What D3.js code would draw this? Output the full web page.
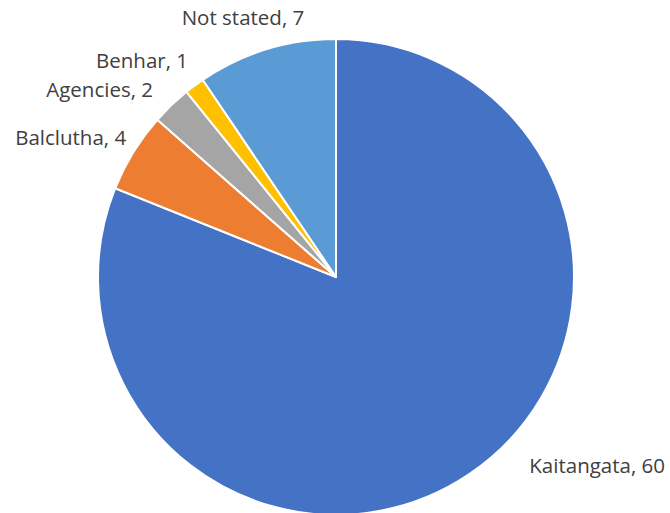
<!DOCTYPE html>
<html><head><meta charset="utf-8">
<script src="https://cdn.jsdelivr.net/npm/d3@7"></script>
<style>body{margin:0;background:#fff}svg{display:block}</style>
</head><body>
<script>
const categories = ["Kaitangata", "Balclutha", "Agencies", "Benhar", "Not stated"];
const values = [60, 4, 2, 1, 7];
const colors = ["#4472C4", "#ED7D31", "#A5A5A5", "#FFC000", "#5B9BD5"];
// label placement (angle in degrees clockwise from top, distance from centre)
const labelAngles = [125.8, 297.8, 308.5, 318.2, 340.3];
const labelDist = [322, 300, 302, 291, 276];

const W = 670, H = 513, cx = 336, cy = 277, R = 238;
const svg = d3.select("body").append("svg").attr("width", W).attr("height", H);
const data = categories.map((c, i) => ({c, v: values[i], i}));
const pie = d3.pie().value(d => d.v).sort(null);
const arc = d3.arc().innerRadius(0).outerRadius(R);
const g = svg.append("g").attr("transform", `translate(${cx},${cy})`);
g.selectAll("path").data(pie(data)).join("path")
  .attr("d", arc).attr("fill", d => colors[d.data.i])
  .attr("stroke", "#fff").attr("stroke-width", 2).attr("stroke-linejoin", "round");
g.selectAll("text").data(pie(data)).join("text")
  .attr("x", d => Math.sin(labelAngles[d.data.i] * Math.PI / 180) * labelDist[d.data.i])
  .attr("y", d => -Math.cos(labelAngles[d.data.i] * Math.PI / 180) * labelDist[d.data.i])
  .attr("text-anchor", "middle").attr("dominant-baseline", "central")
  .attr("font-family", "'Open Sans', 'Liberation Sans', sans-serif").attr("font-size", 20.5)
  .attr("fill", "#404040")
  .text(d => `${d.data.c}, ${d.data.v}`);
</script>
</body></html>
